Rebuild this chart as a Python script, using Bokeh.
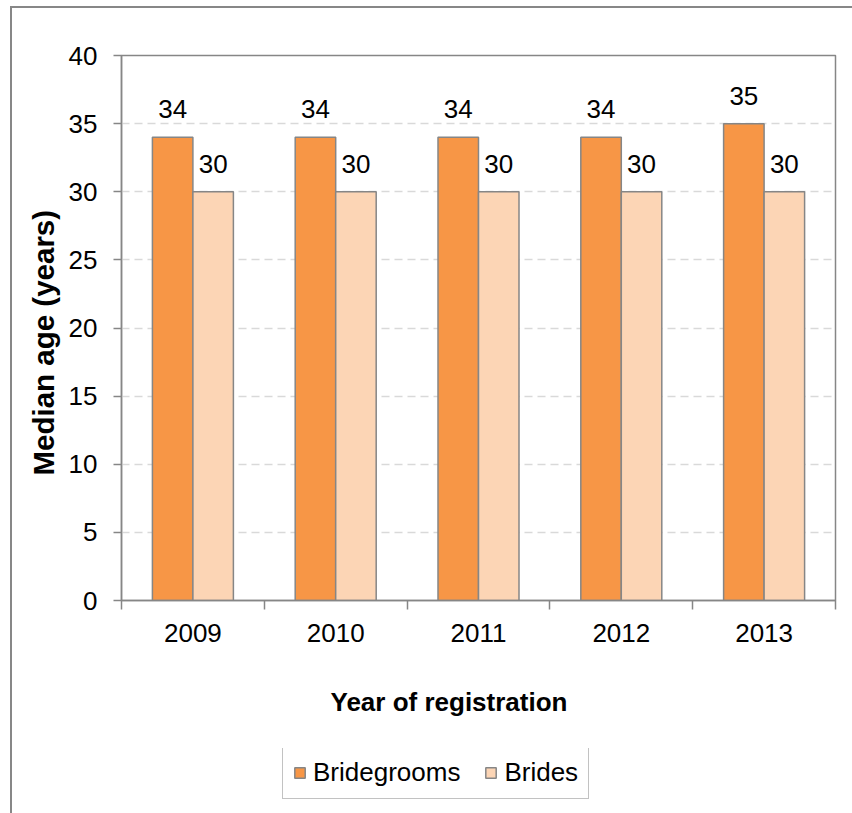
import numpy as np
from bokeh.plotting import figure
from bokeh.layouts import column
from bokeh.models import (ColumnDataSource, FixedTicker, Range1d, Legend, LegendItem, Title)
from bokeh.core.properties import value
from bokeh.embed import file_html
from bokeh.resources import INLINE

years = ["2009", "2010", "2011", "2012", "2013"]
bridegrooms = [34, 34, 34, 34, 35]
brides = [30, 30, 30, 30, 30]
y_ticks = [0, 5, 10, 15, 20, 25, 30, 35, 40]
series_names = ["Bridegrooms", "Brides"]

FONT = "Liberation Sans"
GRAY = "#868686"
C_GROOM = "#F79646"
C_BRIDE = "#FCD5B5"

idx = np.arange(len(years))
bw = 0.2836
src = ColumnDataSource(dict(
    xg=idx + 0.5 - bw / 2, xb=idx + 0.5 + bw / 2,
    g=bridegrooms, b=brides,
    gl=[str(v) for v in bridegrooms], bl=[str(v) for v in brides],
))

p = figure(width=840, height=648, x_range=Range1d(0, len(years)), y_range=Range1d(0, 40),
           output_backend="svg", toolbar_location=None,
           min_border_left=109, min_border_right=17, min_border_top=47, min_border_bottom=56)
p.outline_line_color = GRAY
p.outline_line_width = 1.5
p.background_fill_color = "white"
p.border_fill_color = "white"

p.vbar(x="xg", top="g", width=bw, source=src, fill_color=C_GROOM,
       line_color=GRAY, line_width=1.5)
p.vbar(x="xb", top="b", width=bw, source=src, fill_color=C_BRIDE,
       line_color=GRAY, line_width=1.5)

p.text(x="xg", y="g", text="gl", source=src, text_align="center", text_baseline="alphabetic",
       y_offset=-28, text_font=value(FONT), text_font_size="26px", text_color="black")
p.text(x="xb", y="b", text="bl", source=src, text_align="center", text_baseline="alphabetic",
       y_offset=-28, text_font=value(FONT), text_font_size="26px", text_color="black")

# grid
p.xgrid.visible = False
p.ygrid.ticker = FixedTicker(ticks=y_ticks[1:-1])
p.ygrid.grid_line_color = "#d9d9d9"
p.ygrid.grid_line_width = 1.5
p.ygrid.grid_line_dash = "8 5"

# y axis
ya = p.yaxis[0]
ya.ticker = FixedTicker(ticks=y_ticks, minor_ticks=[])
ya.axis_line_color = GRAY
ya.axis_line_width = 1.5
ya.major_tick_line_color = GRAY
ya.major_tick_line_width = 1.5
ya.major_tick_out = 8
ya.major_tick_in = 0
ya.minor_tick_line_color = None
ya.major_label_standoff = 16
ya.major_label_text_font = FONT
ya.major_label_text_font_size = "26px"
ya.major_label_text_color = "black"

# x axis
xa = p.xaxis[0]
centers = [float(i) + 0.5 for i in idx]
xa.ticker = FixedTicker(ticks=centers, minor_ticks=[float(i) for i in range(len(years) + 1)])
xa.major_label_overrides = {c: y for c, y in zip(centers, years)}
xa.axis_line_color = GRAY
xa.axis_line_width = 1.5
xa.major_tick_line_color = None
xa.major_tick_out = 0
xa.major_tick_in = 0
xa.minor_tick_line_color = GRAY
xa.minor_tick_line_width = 1.5
xa.minor_tick_out = 9
xa.minor_tick_in = 0
xa.major_label_standoff = 14
xa.major_label_text_font = FONT
xa.major_label_text_font_size = "26px"
xa.major_label_text_color = "black"

ytitle = Title(text="Median age (years)", align="left", offset=125, standoff=12,
               text_font=FONT, text_font_style="bold", text_font_size="29.5px",
               text_color="black")
p.add_layout(ytitle, "left")

# lower strip: x-axis title and legend
q = figure(width=840, height=157, x_range=Range1d(0, 1), y_range=Range1d(0, 1),
           output_backend="svg", toolbar_location=None, x_axis_type=None, y_axis_type=None,
           min_border=0)
q.outline_line_color = None
q.xgrid.visible = False
q.ygrid.visible = False
q.border_fill_color = "white"
lg1 = q.vbar(x="xg", top="g", width=bw, source=src, fill_color=C_GROOM,
             line_color=GRAY, line_width=1.5, visible=False)
lg2 = q.vbar(x="xb", top="b", width=bw, source=src, fill_color=C_BRIDE,
             line_color=GRAY, line_width=1.5, visible=False)

xtitle = Title(text="Year of registration", align="left", offset=209, standoff=60,
               vertical_align="top",
               text_font=FONT, text_font_style="bold", text_font_size="26px",
               text_color="black")
q.add_layout(xtitle, "above")

legend = Legend(items=[LegendItem(label=series_names[0], renderers=[lg1]),
                       LegendItem(label=series_names[1], renderers=[lg2])],
                orientation="horizontal", location=(161, 14),
                glyph_width=13, glyph_height=13, label_standoff=7, spacing=24,
                padding=10, margin=0,
                inactive_fill_alpha=0.0,
                label_text_font=FONT, label_text_font_size="26px", label_text_color="black",
                border_line_color=GRAY, border_line_width=1.5,
                background_fill_color="white", background_fill_alpha=1.0)
q.add_layout(legend, "center")

layout = column(p, q, spacing=0,
                styles={"margin-left": "10px", "margin-top": "6px",
                        "border-left": "2px solid #878787", "border-top": "2px solid #878787"})

open("out.html", "w").write(file_html(layout, INLINE))
